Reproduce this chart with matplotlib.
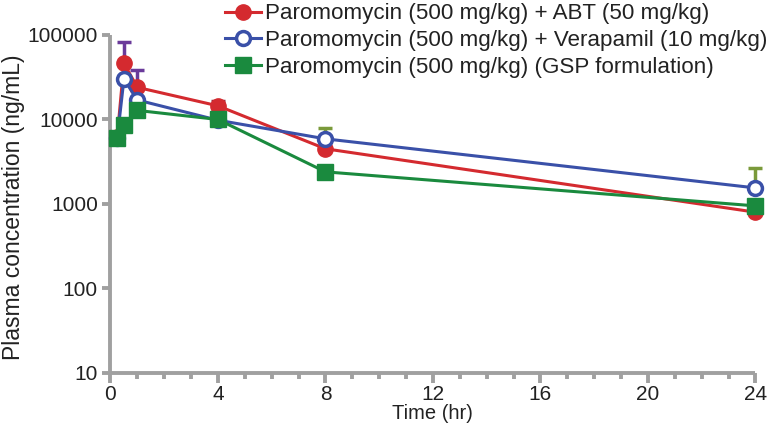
import numpy as np
import matplotlib
matplotlib.use('Agg')
import matplotlib.pyplot as plt
from matplotlib.ticker import FixedLocator, MultipleLocator, NullLocator

plt.rcParams['font.family'] = ['Liberation Sans', 'DejaVu Sans']

# data
t_abt = [0.25, 0.5, 1, 4, 8, 24]
c_abt = [6200, 46000, 24000, 14500, 4500, 800]
err_abt = [0, 37000, 15000, 2000, 0, 0]

t_ver = [0.25, 0.5, 1, 4, 8, 24]
c_ver = [6000, 30000, 17000, 9800, 5900, 1550]
err_ver = [0, 0, 0, 0, 2000, 1100]

t_gsp = [0.25, 0.5, 1, 4, 8, 24]
c_gsp = [6000, 8600, 12800, 10000, 2400, 950]

labels = ['Paromomycin (500 mg/kg) + ABT (50 mg/kg)',
          'Paromomycin (500 mg/kg) + Verapamil (10 mg/kg)',
          'Paromomycin (500 mg/kg) (GSP formulation)']

red = '#d42a2f'
blue = '#3a50a8'
green = '#1a8a3e'
grey = '#a0a0a0'

fig = plt.figure(figsize=(7.7, 4.33), dpi=100)
ax = fig.add_axes([0.1435, 0.1386, 0.8375, 0.7806])

# error bars (upper only)
eb_kw = dict(fmt='none', elinewidth=2.5, capsize=5, capthick=2.5, zorder=1)
for eb in [
    ax.errorbar(t_abt[1:3], c_abt[1:3], yerr=[[0, 0], err_abt[1:3]],
                ecolor='#6a3a9a', **eb_kw),
    ax.errorbar(t_abt[3:4], c_abt[3:4], yerr=[[0], err_abt[3:4]],
                ecolor='#9a2a3a', **eb_kw),
    ax.errorbar(t_ver[4:], c_ver[4:], yerr=[[0, 0], err_ver[4:]],
                ecolor='#7a9a3a', **eb_kw)]:
    for art in eb.get_children():
        art.set_clip_on(False)

ax.plot(t_abt, c_abt, color=red, lw=2.2, marker='o', ms=11, mfc=red, mec=red,
        label=labels[0], zorder=3, clip_on=False)
ax.plot(t_ver, c_ver, color=blue, lw=2.2, marker='o', ms=10, mfc='white',
        mec=blue, mew=2.5, label=labels[1], zorder=4, clip_on=False)
ax.plot(t_gsp, c_gsp, color=green, lw=2.2, marker='s', ms=12, mfc=green,
        mec=green, label=labels[2], zorder=5, clip_on=False)

ax.set_yscale('log')
ax.set_ylim(10, 100000)
ax.set_xlim(0, 24)
ax.yaxis.set_major_locator(FixedLocator([10, 100, 1000, 10000, 100000]))
ax.yaxis.set_minor_locator(NullLocator())
ax.set_yticklabels(['10', '100', '1000', '10000', '100000'])
ax.xaxis.set_major_locator(MultipleLocator(4))
ax.xaxis.set_minor_locator(MultipleLocator(1))

for s in ['top', 'right']:
    ax.spines[s].set_visible(False)
for s in ['left', 'bottom']:
    ax.spines[s].set_color(grey)
    ax.spines[s].set_linewidth(2.8)
    ax.spines[s].set_capstyle('butt')

ax.tick_params(axis='both', which='major', color=grey, width=2.8, length=6,
               labelsize=15, labelcolor='#222222', pad=3)
ax.tick_params(axis='x', which='minor', color=grey, width=2.8, length=4)
ax.tick_params(axis='x', which='major', length=7, pad=2)

ax.set_xlabel('Time (hr)', fontsize=14.5, color='#222222', labelpad=0)
ax.set_ylabel('Plasma concentration (ng/mL)', fontsize=16.5, color='#222222')
ax.yaxis.set_label_coords(-0.133, 0.49)
ax.patch.set_alpha(0)

leg = fig.legend(loc='upper right', bbox_to_anchor=(0.996, 0.992), frameon=False,
                 fontsize=16.1, handlelength=1.6, handletextpad=0.15,
                 labelspacing=0.25, borderaxespad=0, borderpad=0)
for txt in leg.get_texts():
    txt.set_color('#222222')

fig.savefig('out.png', dpi=100)
